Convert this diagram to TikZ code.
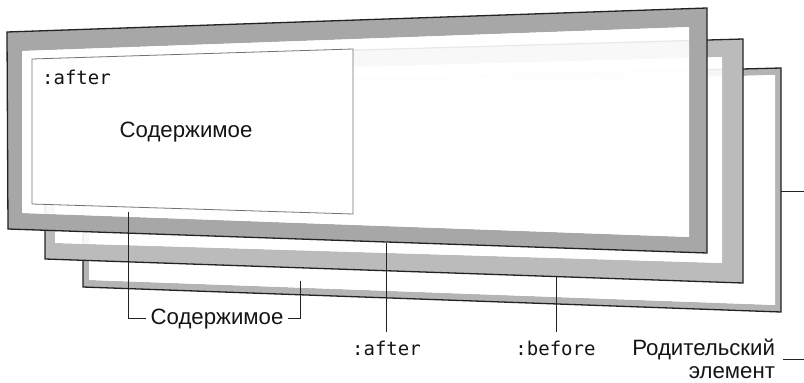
\documentclass[tikz,border=0pt]{standalone}
\usepackage{fontspec}
\setmainfont{Liberation Sans}
\newfontfamily\codefont{DejaVu Sans Mono}
\usetikzlibrary{positioning}

\definecolor{rimfront}{HTML}{A7A7A7}
\definecolor{rimmid}{HTML}{BBBBBB}
\definecolor{rimback}{HTML}{B4B4B4}
\definecolor{inkline}{HTML}{222222}

\begin{document}
\begin{tikzpicture}[x=1pt,y=-1pt,
  rim/.style={draw=inkline,line width=1.3pt,line join=miter},
  pane/.style={fill=white,fill opacity=0.9},
  lead/.style={draw=inkline,line width=0.8pt},
  txt/.style={font=\fontsize{22.2}{22.5}\selectfont,text=black!92,inner sep=4pt},
  code/.style={font=\codefont\fontsize{19}{20}\selectfont,text=black!92,inner sep=3pt,outer sep=6pt}]

\useasboundingbox (0,0) rectangle (804,383);

% three layers, back to front
\fill[rimback,even odd rule] (83,86) -- (781,68) -- (781,312) -- (83,287) -- cycle
  (89,93) -- (775,75) -- (775,305) -- (89,280) -- cycle;
\draw[rim] (83,86) -- (781,68) -- (781,312) -- (83,287) -- cycle;
\fill[pane] (89,93) -- (775,75) -- (775,305) -- (89,280) -- cycle;

\fill[rimmid,even odd rule] (45,59) -- (743,39) -- (743,283) -- (45,259) -- cycle
  (55,75) -- (722,57) -- (722,263) -- (55,243) -- cycle;
\draw[rim] (45,59) -- (743,39) -- (743,283) -- (45,259) -- cycle;
\fill[pane] (55,75) -- (722,57) -- (722,263) -- (55,243) -- cycle;

\fill[rimfront,even odd rule] (7,32) -- (707,8) -- (707,253) -- (8,229) -- cycle
  (22,51) -- (689,27) -- (689,237) -- (22,213) -- cycle;
\draw[rim] (7,32) -- (707,8) -- (707,253) -- (8,229) -- cycle;
\fill[pane] (22,51) -- (689,27) -- (689,237) -- (22,213) -- cycle;

% content box
\filldraw[fill=white,draw=black!55,line width=0.8pt] (32,59) -- (353,49) -- (353,214) -- (32,204) -- cycle;
\node[code,anchor=base] (aftin) at (76.5,84) {:after};
\node[txt,anchor=base] (cont) at (186,137) {Содержимое};

% labels
\node[txt,anchor=base] (contlbl) at (217,324) {Содержимое};
\node[code,anchor=base] (aftlbl) at (386.5,355) {:after};
\node[code,anchor=base] (beflbl) at (555.5,355) {:before};
\node[txt,align=right,anchor=east,outer sep=4pt] (parlbl) at (783,359) {Родительский\\элемент};

\coordinate (cin) at (128,212);
\coordinate (cbk) at (300,281);
\coordinate (fbot) at (386,243);
\coordinate (mbot) at (556,277);
\coordinate (bside) at (781,191);
\coordinate (edge) at (804,191);

\draw[lead] (cin) |- (contlbl.west);
\draw[lead] (cbk) |- (contlbl.east);
\draw[lead] (fbot) -- (fbot |- aftlbl.north);
\draw[lead] (mbot) -- (mbot |- beflbl.north);
\draw[lead] (bside) -- (edge);
\draw[lead] (parlbl.east) -- (parlbl.east -| edge);

\end{tikzpicture}
\end{document}
